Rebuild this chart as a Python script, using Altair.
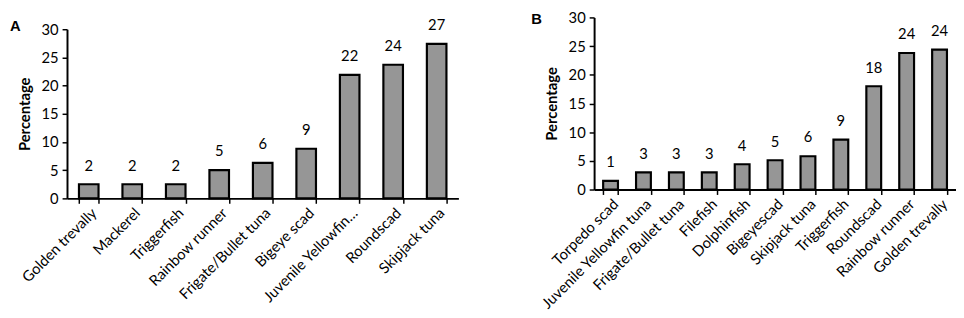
import altair as alt
import pandas as pd

cats_a = ["Golden trevally", "Mackerel", "Triggerfish", "Rainbow runner",
          "Frigate/Bullet tuna", "Bigeye scad", "Juvenile Yellowfin…",
          "Roundscad", "Skipjack tuna"]
vals_a = [2.5, 2.5, 2.5, 5.0, 6.3, 8.8, 21.9, 23.7, 27.4]
labels_a = ["2", "2", "2", "5", "6", "9", "22", "24", "27"]

cats_b = ["Torpedo scad", "Juvenile Yellowfin tuna", "Frigate/Bullet tuna",
          "Filefish", "Dolphinfish", "Bigeyescad", "Skipjack tuna",
          "Triggerfish", "Roundscad", "Rainbow runner", "Golden trevally"]
vals_b = [1.5, 3.0, 3.0, 3.0, 4.4, 5.1, 5.8, 8.7, 18.0, 23.8, 24.4]
labels_b = ["1", "3", "3", "3", "4", "5", "6", "9", "18", "24", "24"]

y_ticks = [0, 5, 10, 15, 20, 25, 30]
FONT = "Lato"


def panel(cats, vals, labels, title, w, h, top_gap):
    df = pd.DataFrame({"species": cats, "pct": vals, "label": labels})
    base = alt.Chart(df)
    x = alt.X(
        "species:N", sort=cats, title=None,
        scale=alt.Scale(paddingInner=0.55, paddingOuter=0.275),
        axis=alt.Axis(labelAngle=-45, tickBand="extent", labelFontSize=15,
                      labelFont=FONT, labelColor="black", domainColor="black",
                      domainWidth=2, tickColor="black", tickWidth=1.5,
                      tickSize=5, labelPadding=2),
    )
    y = alt.Y(
        "pct:Q", scale=alt.Scale(domain=[0, 30], range=[h, top_gap]),
        axis=alt.Axis(values=y_ticks, title="Percentage", grid=False,
                      labelFontSize=15, labelFont=FONT, labelColor="black",
                      titleFont=FONT, titleFontSize=15, titleFontWeight="bold",
                      titleColor="black", titlePadding=9,
                      domainColor="black", domainWidth=2, tickColor="black",
                      tickWidth=1.5, tickSize=5, labelPadding=4),
    )
    bars = base.mark_bar(color="#969696", stroke="black", strokeWidth=2.2).encode(x=x, y=y)
    text = base.mark_text(dy=-11, baseline="bottom", fontSize=15, font=FONT,
                          color="black").encode(x=x, y=y, text="label:N")
    ttl = alt.TitleParams(title, orient="left", anchor="end", angle=0,
                          baseline="top", dy=2, fontSize=15, font="Liberation Sans",
                          fontWeight="bold", color="black", offset=-14)
    return alt.layer(bars, text).properties(width=w, height=h, title=ttl)


pa = panel(cats_a, vals_a, labels_a, "A", 398, 184, 12)
pb = panel(cats_b, vals_b, labels_b, "B", 368, 175, 0)

chart = alt.hconcat(pa, pb, spacing=74).properties(
    padding={"left": 1, "top": 0, "right": 0, "bottom": 0}
).configure_view(stroke=None)

chart.save("out.html", embed_options={"renderer": "svg", "actions": False})
